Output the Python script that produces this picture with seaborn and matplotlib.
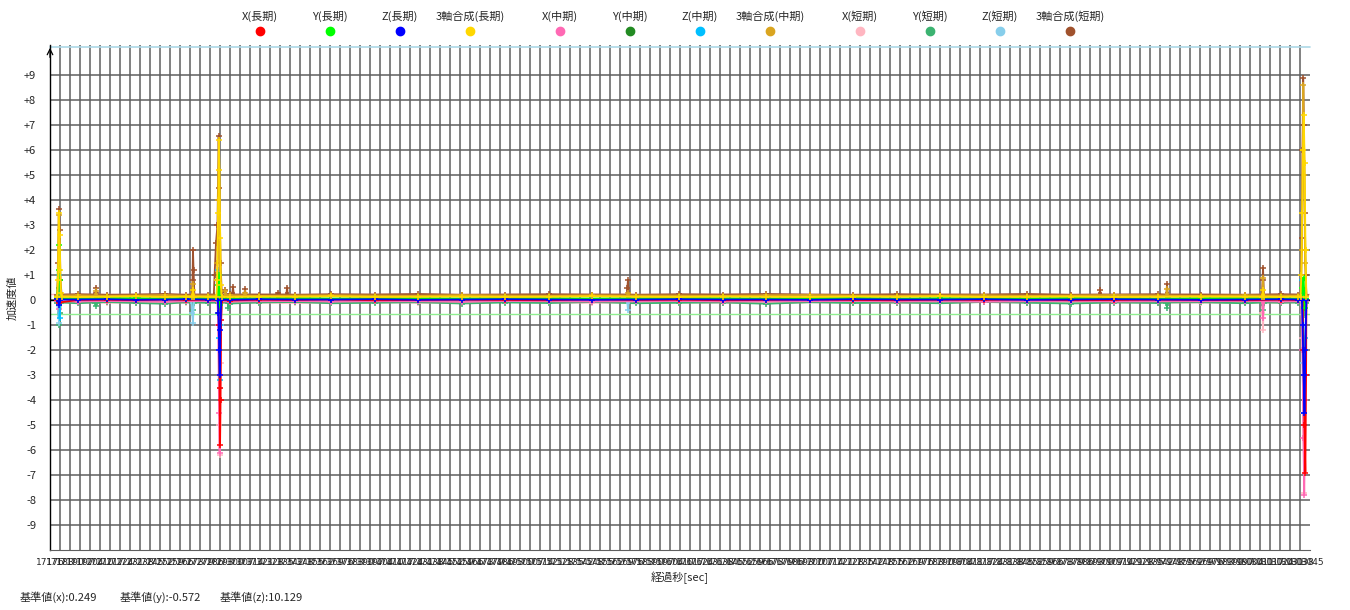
import numpy as np
import pandas as pd
import matplotlib
matplotlib.use("Agg")
import matplotlib.pyplot as plt
import seaborn as sns
from matplotlib.lines import Line2D

sns.set_style("white")
plt.rcParams['font.family'] = ['Noto Sans CJK JP', 'DejaVu Sans']

# ====== データ ======
names = ["X(長期)", "Y(長期)", "Z(長期)", "3軸合成(長期)",
         "X(中期)", "Y(中期)", "Z(中期)", "3軸合成(中期)",
         "X(短期)", "Y(短期)", "Z(短期)", "3軸合成(短期)"]
colors = ["#ff0000", "#00ff00", "#0000ff", "#ffd700",
          "#ff69b4", "#228b22", "#00bfff", "#daa520",
          "#ffb6c1", "#3cb371", "#87ceeb", "#a0522d"]

ref_x = 0.249
ref_y = -0.572
ref_z = 10.129

# 経過秒 (ベースライン部分)
base_t = [17181, 17195, 17215, 17235, 17255, 17270, 17285, 17300, 17320, 17345,
          17370, 17400, 17430, 17460, 17490, 17520, 17550, 17580, 17610, 17640,
          17670, 17700, 17730, 17760, 17790, 17820, 17850, 17880, 17910, 17940,
          17970, 18000, 18025, 18037, 18042.5]

base_x_long = [0.02, 0.0, 0.01, -0.01, 0.02, 0.0, 0.01, -0.02, 0.01, 0.0, 0.02, -0.01, 0.0, 0.01, 0.0, -0.01, 0.02, 0.0,
               0.01, -0.01, 0.0, 0.02, 0.0, -0.01, 0.01, 0.0, 0.02, -0.01, 0.0, 0.01, 0.0, -0.01, 0.01, 0.0, 0.0]
base_y_long = [0.07, 0.06, 0.08, 0.07, 0.06, 0.08, 0.07, 0.06, 0.07, 0.08, 0.06, 0.07, 0.07, 0.06, 0.08, 0.07, 0.06, 0.07,
               0.08, 0.07, 0.06, 0.07, 0.08, 0.06, 0.07, 0.07, 0.06, 0.08, 0.07, 0.06, 0.07, 0.08, 0.07, 0.06, 0.06]
base_z_long = [0.03, 0.02, 0.03, 0.01, 0.02, 0.03, 0.02, 0.01, 0.03, 0.02, 0.02, 0.03, 0.01, 0.02, 0.03, 0.02, 0.01, 0.02,
               0.03, 0.02, 0.02, 0.01, 0.03, 0.02, 0.02, 0.03, 0.01, 0.02, 0.03, 0.02, 0.01, 0.02, 0.03, 0.02, 0.02]
base_s_long = [0.14, 0.12, 0.13, 0.15, 0.12, 0.14, 0.13, 0.12, 0.14, 0.13, 0.15, 0.12, 0.13, 0.14, 0.12, 0.13, 0.15, 0.13,
               0.12, 0.14, 0.13, 0.12, 0.14, 0.13, 0.15, 0.12, 0.13, 0.14, 0.12, 0.13, 0.14, 0.13, 0.12, 0.14, 0.14]
base_x_mid = [-0.05, -0.06, -0.04, -0.05, -0.07, -0.05, -0.04, -0.06, -0.05, -0.04, -0.06, -0.05, -0.05, -0.07, -0.04,
              -0.05, -0.06, -0.05, -0.04, -0.06, -0.05, -0.05, -0.04, -0.06, -0.05, -0.07, -0.05, -0.04, -0.06, -0.05,
              -0.05, -0.04, -0.06, -0.05, -0.05]
base_y_mid = [0.04, 0.05, 0.03, 0.04, 0.05, 0.03, 0.04, 0.04, 0.05, 0.03, 0.04, 0.05, 0.04, 0.03, 0.04, 0.05, 0.04, 0.03,
              0.05, 0.04, 0.04, 0.03, 0.05, 0.04, 0.03, 0.04, 0.05, 0.04, 0.03, 0.04, 0.05, 0.04, 0.04, 0.03, 0.03]
base_z_mid = [0.04, 0.03, 0.05, 0.04, 0.03, 0.04, 0.05, 0.03, 0.04, 0.04, 0.03, 0.05, 0.04, 0.03, 0.04, 0.05, 0.03, 0.04,
              0.04, 0.03, 0.05, 0.04, 0.03, 0.04, 0.05, 0.04, 0.03, 0.04, 0.05, 0.03, 0.04, 0.04, 0.03, 0.05, 0.05]
base_s_mid = [0.18, 0.19, 0.17, 0.18, 0.2, 0.17, 0.18, 0.19, 0.17, 0.18, 0.19, 0.18, 0.17, 0.2, 0.18, 0.17, 0.19, 0.18,
              0.18, 0.17, 0.19, 0.2, 0.18, 0.17, 0.18, 0.19, 0.17, 0.18, 0.2, 0.18, 0.17, 0.19, 0.18, 0.18, 0.18]
base_x_short = [-0.1, -0.09, -0.11, -0.1, -0.08, -0.11, -0.1, -0.09, -0.1, -0.12, -0.1, -0.09, -0.11, -0.1, -0.08,
                -0.1, -0.11, -0.09, -0.1, -0.1, -0.12, -0.09, -0.1, -0.11, -0.1, -0.08, -0.1, -0.11, -0.09, -0.1,
                -0.1, -0.12, -0.1, -0.09, -0.09]
base_y_short = [-0.1, -0.13, -0.08, -0.12, -0.15, -0.09, -0.11, -0.14, -0.1, -0.08, -0.13, -0.11, -0.09, -0.14, -0.1,
                -0.12, -0.08, -0.13, -0.11, -0.1, -0.15, -0.09, -0.12, -0.1, -0.13, -0.08, -0.11, -0.14, -0.1, -0.12,
                -0.09, -0.13, -0.11, -0.1, -0.1]
base_z_short = [-0.03, -0.02, -0.04, -0.03, -0.02, -0.03, -0.04, -0.02, -0.03, -0.03, -0.02, -0.04, -0.03, -0.02, -0.03,
                -0.04, -0.02, -0.03, -0.03, -0.02, -0.04, -0.03, -0.02, -0.03, -0.04, -0.03, -0.02, -0.03, -0.04, -0.02,
                -0.03, -0.03, -0.02, -0.04, -0.04]
base_s_short = [0.22, 0.23, 0.21, 0.22, 0.24, 0.21, 0.22, 0.23, 0.22, 0.21, 0.23, 0.22, 0.24, 0.21, 0.22, 0.23, 0.22,
                0.21, 0.23, 0.22, 0.24, 0.22, 0.21, 0.23, 0.22, 0.22, 0.24, 0.21, 0.22, 0.23, 0.22, 0.21, 0.23, 0.22, 0.22]

# スパイク部分 (経過秒, 値)
spk_t_x_long = [17182.3, 17292.0, 17292.5, 17293.0, 17293.3, 17293.6, 17294.0, 17294.6,
                18040.0, 18040.5, 18041.2, 18041.8, 18042.3]
spk_v_x_long = [-0.1, 0.0, -1.0, -3.5, -5.8, -4.0, -0.8, 0.0,
                0.0, -2.0, -5.0, -6.9, -3.0]
spk_t_y_long = [17182.0, 17182.4, 17182.8, 17183.4, 17291.5, 17292.0, 17292.6, 17293.1, 17293.7,
                18039.3, 18039.8, 18040.6, 18041.4]
spk_v_y_long = [1.2, 2.2, 0.8, 0.07, 0.07, 0.6, 1.0, -0.2, 0.07,
                0.07, 0.5, 0.9, -0.3]
spk_t_z_long = [17182.4, 17182.9, 17291.7, 17292.2, 17292.7, 17293.1, 17293.5, 17294.1,
                18039.4, 18039.9, 18040.6, 18041.2, 18041.8]
spk_v_z_long = [-0.2, 0.02, 0.02, -0.5, -2.0, -3.0, -1.2, 0.02,
                0.02, -1.0, -3.0, -4.5, -2.0]
spk_t_s_long = [17181.6, 17182.1, 17182.6, 17183.1, 17183.6, 17184.2,
                17274.1, 17274.6, 17275.1,
                17290.8, 17291.3, 17291.9, 17292.4, 17292.9, 17293.4, 17293.9, 17294.5,
                18012.1, 18012.6, 18013.1,
                18038.5, 18039.0, 18039.6, 18040.2, 18040.7, 18041.3, 18041.9]
spk_v_s_long = [0.8, 3.5, 2.6, 1.2, 0.3, 0.13,
                0.13, 0.4, 0.13,
                0.13, 0.8, 3.5, 6.4, 5.2, 2.5, 0.6, 0.13,
                0.13, 0.4, 0.13,
                0.13, 1.0, 3.5, 6.0, 7.4, 5.5, 2.0]
spk_t_x_mid = [17182.5, 17183.1, 17291.5, 17292.0, 17292.6, 17293.0, 17293.4, 17294.0,
               18012.1, 18012.6, 18013.1,
               18039.2, 18039.8, 18040.5, 18041.0, 18041.6]
spk_v_x_mid = [-0.35, -0.05, -0.05, -1.0, -4.5, -6.1, -3.0, -0.05,
               -0.05, -0.7, -0.05,
               -0.05, -2.0, -5.5, -7.8, -4.0]
spk_t_y_mid = [17182.3, 17182.9, 17291.7, 17292.2, 17292.8, 17293.4, 18039.8, 18040.3, 18041.0]
spk_v_y_mid = [0.5, 0.04, 0.04, 0.8, -0.5, 0.04, 0.04, 0.5, -0.3]
spk_t_z_mid = [17182.0, 17182.6, 17183.2, 17291.5, 17292.0, 17292.5, 17293.0, 17293.5, 17294.1,
               18039.3, 18039.8, 18040.4, 18041.0, 18041.6]
spk_v_z_mid = [1.0, -0.7, 0.04, 0.04, 1.2, -1.5, -3.2, -1.0, 0.04,
               0.04, 0.8, -2.0, -4.5, -1.5]
spk_t_s_mid = [17182.0, 17182.6, 17183.2,
               17207.2, 17207.7, 17208.2,
               17274.1, 17274.6, 17275.1,
               17291.0, 17291.5, 17292.2, 17292.7, 17293.3, 17296.5, 17297.0, 17297.5,
               17310.0, 17310.5, 17311.0,
               17574.1, 17574.6, 17575.1,
               17945.9, 17946.4, 17946.9,
               18012.1, 18012.6, 18013.1,
               18038.8, 18039.4, 18040.0, 18040.4, 18041.0, 18041.6]
spk_v_s_mid = [3.4, 2.0, 0.18,
               0.18, 0.35, 0.18,
               0.18, 0.65, 0.18,
               0.18, 1.5, 4.0, 2.0, 0.18, 0.18, 0.35, 0.18,
               0.18, 0.3, 0.18,
               0.18, 0.3, 0.18,
               0.18, 0.45, 0.18,
               0.18, 0.9, 0.18,
               0.18, 2.0, 6.0, 8.6, 5.0, 1.5]
spk_t_x_short = [17182.6, 17183.2, 17291.9, 17292.4, 17292.9, 17293.2, 17293.7, 17294.3,
                 18011.7, 18012.2, 18012.6, 18013.1,
                 18039.0, 18039.6, 18040.4, 18041.0, 18041.5]
spk_v_x_short = [-0.5, -0.1, -0.1, -2.0, -5.0, -6.2, -2.5, -0.1,
                 -0.1, -0.5, -1.2, -0.1,
                 -0.1, -1.5, -4.5, -7.7, -3.0]
spk_t_y_short = [17182.5, 17182.9, 17183.5,
                 17207.2, 17207.7, 17208.2,
                 17274.1, 17274.6, 17275.1,
                 17292.0, 17292.6, 17293.2, 17298.5, 17299.0, 17299.5,
                 17945.9, 17946.4, 17946.9,
                 18012.1, 18012.6, 18013.1,
                 18040.3, 18040.8, 18041.3]
spk_v_y_short = [-1.0, -0.5, -0.1,
                 -0.1, -0.25, -0.1,
                 -0.1, -0.4, -0.1,
                 -0.1, -0.5, -0.1, -0.1, -0.3, -0.1,
                 -0.1, -0.3, -0.1,
                 -0.1, -0.4, -0.1,
                 -0.1, -0.6, -0.1]
spk_t_z_short = [17182.2, 17182.7, 17183.3,
                 17273.5, 17274.0, 17274.6, 17275.2,
                 17291.8, 17292.3, 17292.8, 17293.3, 17293.8, 17294.4,
                 17574.1, 17574.6, 17575.1,
                 18039.0, 18039.6, 18040.3, 18041.0, 18041.6]
spk_v_z_short = [-0.9, 0.8, -0.03,
                 -0.03, -0.5, -0.9, -0.03,
                 -0.03, 0.8, -2.0, -3.5, -1.0, -0.03,
                 -0.03, -0.4, -0.03,
                 -0.03, 0.5, -2.5, -5.0, -2.0]
spk_t_s_short = [17181.8, 17182.2, 17182.7, 17183.2, 17184.0,
                 17207.0, 17207.4, 17207.7, 17208.3,
                 17273.8, 17274.3, 17274.6, 17275.0, 17275.6,
                 17289.0, 17289.5, 17290.5, 17291.5, 17292.3, 17292.9, 17293.6, 17294.5, 17296.5, 17297.3,
                 17301.6, 17302.2, 17302.8,
                 17310.0, 17310.5, 17311.0,
                 17332.8, 17333.3, 17333.8,
                 17339.0, 17339.5, 17340.0,
                 17573.8, 17574.2, 17574.6, 17575.2,
                 17899.7, 17900.2, 17900.7,
                 17945.9, 17946.4, 17946.9,
                 18011.8, 18012.3, 18012.6, 18013.2,
                 18038.6, 18039.2, 18039.8, 18040.3, 18040.8, 18041.4, 18042.0]
spk_v_s_short = [1.5, 3.65, 2.8, 0.8, 0.22,
                 0.22, 0.3, 0.5, 0.22,
                 0.22, 0.8, 2.0, 1.2, 0.22,
                 0.22, 1.0, 2.3, 3.0, 6.55, 4.5, 1.5, 0.22, 0.4, 0.22,
                 0.22, 0.52, 0.22,
                 0.22, 0.45, 0.22,
                 0.22, 0.3, 0.22,
                 0.22, 0.5, 0.22,
                 0.22, 0.5, 0.8, 0.22,
                 0.22, 0.4, 0.22,
                 0.22, 0.65, 0.22,
                 0.22, 0.8, 1.3, 0.22,
                 0.22, 2.5, 6.0, 8.9, 7.0, 3.5, 1.0]

bases = [base_x_long, base_y_long, base_z_long, base_s_long,
         base_x_mid, base_y_mid, base_z_mid, base_s_mid,
         base_x_short, base_y_short, base_z_short, base_s_short]
spikes = [(spk_t_x_long, spk_v_x_long), (spk_t_y_long, spk_v_y_long), (spk_t_z_long, spk_v_z_long),
          (spk_t_s_long, spk_v_s_long), (spk_t_x_mid, spk_v_x_mid), (spk_t_y_mid, spk_v_y_mid),
          (spk_t_z_mid, spk_v_z_mid), (spk_t_s_mid, spk_v_s_mid), (spk_t_x_short, spk_v_x_short),
          (spk_t_y_short, spk_v_y_short), (spk_t_z_short, spk_v_z_short), (spk_t_s_short, spk_v_s_short)]

# x軸目盛 (10px 間隔)
x_ticks = np.linspace(17176, 18045, 127)
x_labels = [str(int(round(v))) for v in x_ticks]
y_ticks = list(range(-9, 10))
y_labels = [("+%d" % v if v > 0 else str(v)) for v in y_ticks]

# ====== 描画 ======
W, H = 1350, 610
fig = plt.figure(figsize=(13.5, 6.1), dpi=100)
ax = fig.add_axes([50 / W, 60 / H, 1260 / W, 505 / H])

ax.axhline(0, color="black", lw=1, zorder=1)
ax.axhline(ref_x, color="#ffb6c1", lw=1, zorder=1)
ax.axhline(ref_y, color="#90ee90", lw=1, zorder=1)
ax.axhline(ref_z, color="#add8e6", lw=1.2, zorder=1, clip_on=False)

# 短期 → 中期 → 長期 の順に重ねる
draw_order = [8, 9, 10, 11, 4, 5, 6, 7, 0, 1, 2, 3]
for i in draw_order:
    col = colors[i]
    st, sv = spikes[i]
    df = pd.DataFrame({"t": list(base_t) + list(st), "v": list(bases[i]) + list(sv)})
    df = df.sort_values("t")
    sns.lineplot(data=df, x="t", y="v", estimator=None, sort=False, color=col,
                 marker="+", ms=4.5, mew=1.1, mec=col, mfc=col, lw=1.3,
                 ax=ax, legend=False, zorder=3)

ax.set_xlim(17176, 18045)
ax.set_ylim(-10, 10.2)
ax.set_xticks(x_ticks)
ax.set_xticklabels(x_labels, fontsize=6.5, family=['DejaVu Sans'])
ax.set_yticks(y_ticks)
ax.set_yticklabels(y_labels, fontsize=8)
ax.tick_params(axis="x", length=4, width=1, color="#555555", pad=2)
ax.tick_params(axis="y", length=9, width=1, color="black", pad=1)
ax.grid(True, color="#5f5f5f", lw=1.1)
ax.get_xgridlines()[0].set_visible(False)
ax.get_xgridlines()[-1].set_visible(False)
ax.set_axisbelow(True)

for s in ["top", "right"]:
    ax.spines[s].set_visible(False)
ax.spines["left"].set_color("black")
ax.spines["left"].set_linewidth(1)
ax.spines["bottom"].set_color("#5f5f5f")
ax.annotate("", xy=(0, 1.0), xytext=(0, 0.97), xycoords="axes fraction",
            arrowprops=dict(arrowstyle="->", color="black", lw=0.9))

ax.set_xlabel("経過秒[sec]", fontsize=8, labelpad=3)
ax.set_ylabel("加速度値", fontsize=8)
ax.yaxis.set_label_coords(-0.026, 0.5)

# 凡例 (文字が上、丸が下)
for i, (name, col) in enumerate(zip(names, colors)):
    cx = (260 + 70 * i + 20 * (i // 4)) / W
    fig.text(cx, 1 - 16 / H, name, ha="center", va="center", fontsize=8)
    fig.add_artist(Line2D([cx], [1 - 31 / H], marker="o", ms=6, color=col, lw=0,
                          transform=fig.transFigure))

fig.text(20 / W, 1 - 597 / H, "基準値(x):%.3f" % ref_x, ha="left", va="center", fontsize=8)
fig.text(120 / W, 1 - 597 / H, "基準値(y):%.3f" % ref_y, ha="left", va="center", fontsize=8)
fig.text(220 / W, 1 - 597 / H, "基準値(z):%.3f" % ref_z, ha="left", va="center", fontsize=8)

fig.savefig("out.png", dpi=100)
